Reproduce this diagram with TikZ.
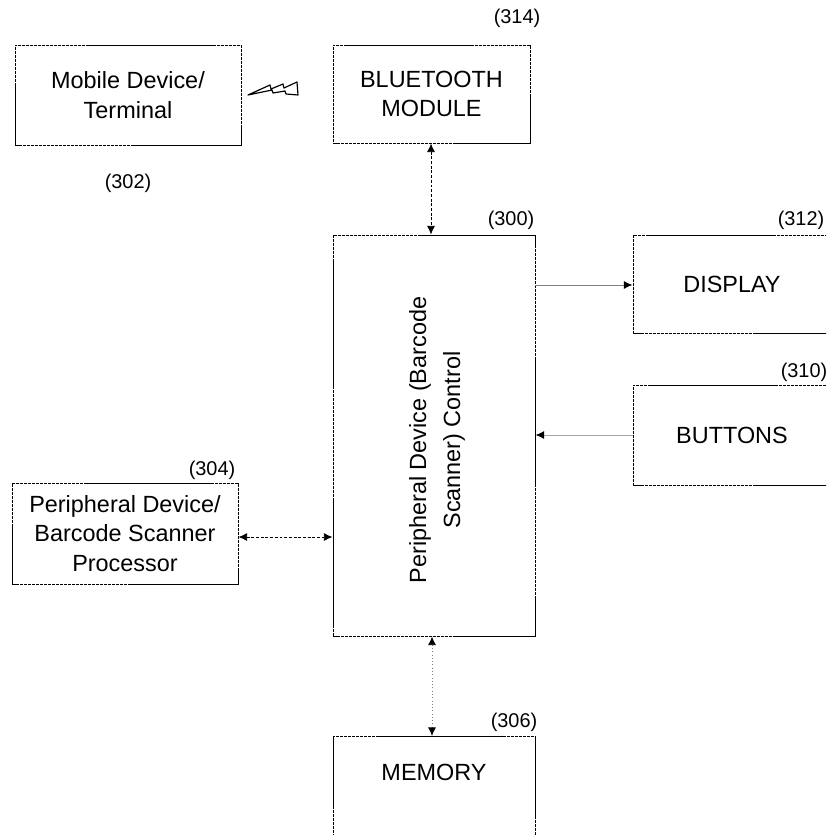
\documentclass[tikz,border=0pt]{standalone}
\usepackage{fontspec}
\setmainfont{Liberation Sans}
\usetikzlibrary{arrows.meta}

\begin{document}
\begin{tikzpicture}[x=0.03cm, y=-0.03cm,
	box/.style={draw, line width=0.8pt, dash pattern=on 3pt off 0.4pt,
		rectangle, inner sep=0pt, align=center, font=\fontsize{20}{25}\selectfont},
	num/.style={font=\fontsize{17}{20}\selectfont, inner sep=0pt},
	tip/.style={-{Latex[length=2.6mm, width=2.4mm, black]}},
	both/.style={{Latex[length=2.6mm, width=2.4mm, black]}-{Latex[length=2.6mm, width=2.4mm, black]}}]

	\clip (0,0) rectangle (826,835);

	% boxes
	\node[box, minimum width=6.78cm, minimum height=3cm] (mobile) at (128,95) {Mobile Device/\\Terminal};
	\node[box, minimum width=5.91cm, minimum height=2.94cm] (bt) at (431.5,94) {BLUETOOTH\\MODULE};
	\node[box, minimum width=6.06cm, minimum height=12.03cm] (ctrl) at (434,435.5) {};
	\node[rotate=90, align=center, font=\fontsize{20}{29}\selectfont] (ctrltext) at (437,440) {Peripheral Device (Barcode\\Scanner) Control};
	\node[box, minimum width=5.94cm, minimum height=2.94cm] (display) at (732,284) {DISPLAY};
	\node[box, minimum width=5.94cm, minimum height=3cm] (buttons) at (732,435) {BUTTONS};
	\node[box, minimum width=6.78cm, minimum height=3.03cm] (scanner) at (125,533.5) {Peripheral Device/\\Barcode Scanner\\Processor};
	\node[box, minimum width=6.06cm, minimum height=3.6cm, anchor=north,
		label={[font=\fontsize{20}{25}\selectfont, anchor=north, yshift=-0.72cm]north:MEMORY}] (memory) at (434,736) {};

	% numbers
	\node[num] (n314) at (517,18) {(314)};
	\node[num] (n302) at (128,183) {(302)};
	\node[num] (n300) at (511,220) {(300)};
	\node[num] (n312) at (801,220) {(312)};
	\node[num] (n310) at (804,372) {(310)};
	\node[num] (n304) at (212,470) {(304)};
	\node[num] (n306) at (514,722) {(306)};

	% wireless link
	\draw[line width=1pt, line join=round] (248,95) -- (270,85) -- (271,89) -- (283,84) -- (284,88)
		-- (297,82) -- (298,95) -- (286,94) -- (285,91) -- (273,93) -- (272,90) -- cycle;

	% connectors
	\draw[both, line width=0.7pt, dash pattern=on 2.5pt off 1.5pt] (bt.south -| 431,0) -- (ctrl.north -| 431,0);
	\draw[tip, gray, line width=0.8pt] (ctrl.east |- 0,285) -- (display.west |- 0,285);
	\draw[tip, gray!70, line width=0.8pt] (buttons.west |- 0,435) -- (ctrl.east |- 0,435);
	\draw[both, line width=0.7pt, dash pattern=on 2.5pt off 1.5pt] (scanner.east |- 0,537) -- (ctrl.west |- 0,537);
	\draw[both, gray, line width=0.7pt, dash pattern=on 0.8pt off 2pt] (ctrl.south -| 432,0) -- (memory.north -| 432,0);
\end{tikzpicture}
\end{document}
